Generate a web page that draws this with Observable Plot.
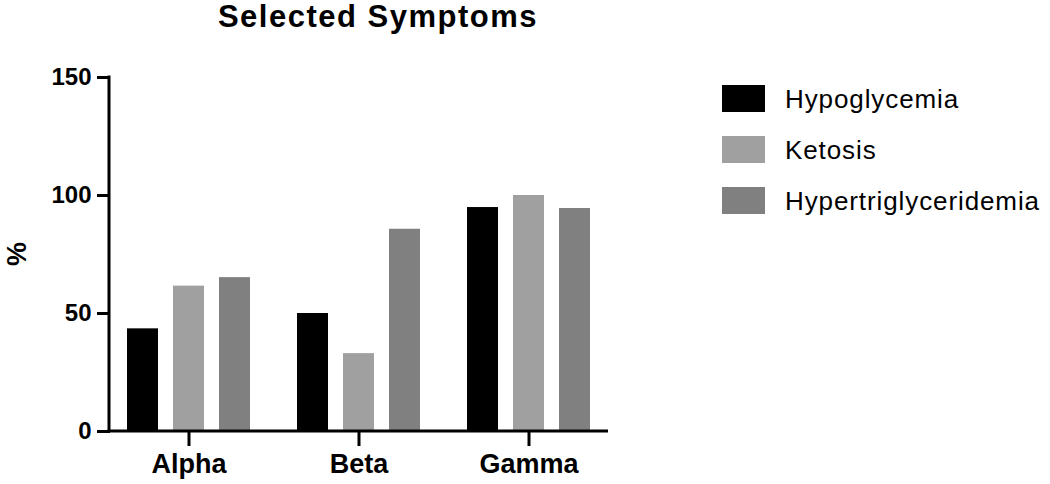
<!DOCTYPE html>
<html><head><meta charset="utf-8">
<script src="https://cdn.jsdelivr.net/npm/d3@7"></script>
<script src="https://cdn.jsdelivr.net/npm/@observablehq/plot@0.6"></script>
<style>
body{margin:0;background:#fff;}
#wrap{position:relative;width:1050px;height:484px;font-family:"Liberation Sans",Arial,Helvetica,sans-serif;color:#000;overflow:hidden;}
#title{position:absolute;left:0;top:0;width:756px;text-align:center;font-weight:bold;font-size:31px;line-height:34px;letter-spacing:1.5px;}
#chart{position:absolute;left:0;top:40px;}
#ylab{position:absolute;left:16.5px;top:254px;transform:translate(-50%,-50%) rotate(-90deg);font-weight:bold;font-size:27px;line-height:27px;}
.lg-sw{position:absolute;left:722px;width:43px;height:27px;}
.lg-tx{position:absolute;left:785px;font-size:26px;line-height:27px;letter-spacing:0.9px;white-space:nowrap;}
</style>
</head><body>
<div id="wrap">
  <div id="title">Selected Symptoms</div>
  <div id="chart"></div>
  <div id="ylab">%</div>
  <div id="legend"></div>
</div>
<script>
const groups = ["Alpha", "Beta", "Gamma"];
const series = ["Hypoglycemia", "Ketosis", "Hypertriglyceridemia"];
const hypoglycemia = [43.5, 50, 94.9];
const ketosis = [61.6, 33, 100];
const hypertriglyceridemia = [65.2, 85.7, 94.5];
const yTicks = [0, 50, 100, 150];
const colors = ["#000000", "#a0a0a0", "#808080"];

const values = [hypoglycemia, ketosis, hypertriglyceridemia];
const rows = series.flatMap((s, i) => groups.map((g, j) => ({group: g, series: s, value: values[i][j]})));

const plot = Plot.plot({
  width: 700,
  height: 444,
  marginLeft: 109,
  marginRight: 92,
  marginTop: 37,
  marginBottom: 53,
  style: {fontFamily: '"Liberation Sans", Arial, Helvetica, sans-serif', fontWeight: "bold", fontSize: "24px", color: "#000", background: "transparent", overflow: "visible"},
  fx: {domain: groups, paddingInner: 0.077, paddingOuter: 0, label: null},
  x: {domain: series, paddingInner: 0.336, paddingOuter: 0.356, axis: null},
  y: {domain: [0, 150], label: null},
  color: {domain: series, range: colors},
  marks: [
    Plot.barY(rows, {fx: "group", x: "series", y: "value", fill: "series"}),
    Plot.axisY({ticks: yTicks, tickSize: 13, tickPadding: 6, strokeWidth: 3, label: null, fontSize: 24}),
    Plot.axisFx({anchor: "bottom", tickSize: 15, tickPadding: 7, strokeWidth: 3, label: null, fontSize: 27})
  ]
});
document.getElementById("chart").appendChild(plot);

// axis lines drawn from the plot's own scales
const svg = d3.select(plot);
const fxs = plot.scale("fx");
const ys = plot.scale("y");
const [xa, xb] = fxs.range;
const y0 = ys.apply(0);
const yTop = ys.apply(d3.max(yTicks));
svg.append("line").attr("x1", xa - 1.5).attr("x2", xb).attr("y1", y0).attr("y2", y0)
  .attr("stroke", "#000").attr("stroke-width", 3);
svg.append("line").attr("x1", xa).attr("x2", xa).attr("y1", y0).attr("y2", yTop - 1.5)
  .attr("stroke", "#000").attr("stroke-width", 3);

// legend from the color scale
const cs = plot.scale("color");
const legend = d3.select("#legend");
series.forEach((s, i) => {
  const top = 85 + i * 51;
  legend.append("div").attr("class", "lg-sw").style("top", top + "px").style("background", cs.apply(s));
  legend.append("div").attr("class", "lg-tx").style("top", (top + 1) + "px").text(s);
});
</script>
</body></html>
